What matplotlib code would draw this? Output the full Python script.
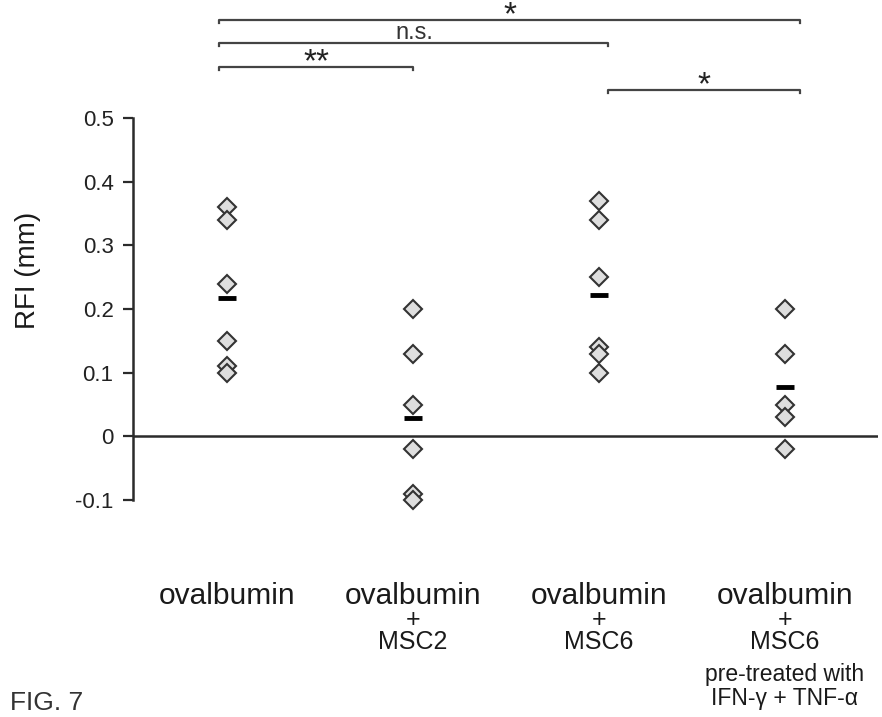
import numpy as np
import matplotlib.pyplot as plt
from matplotlib.transforms import blended_transform_factory

plt.rcParams['font.family'] = ['Liberation Sans', 'DejaVu Sans']

# Данные по группам (RFI, мм)
groups = ['ovalbumin', 'ovalbumin + MSC2', 'ovalbumin + MSC6',
          'ovalbumin + MSC6 pre-treated']
ova = [0.36, 0.34, 0.24, 0.15, 0.11, 0.10]
ova_msc2 = [0.20, 0.13, 0.05, -0.02, -0.09, -0.10]
ova_msc6 = [0.37, 0.34, 0.25, 0.14, 0.13, 0.10]
ova_msc6_pre = [0.20, 0.13, 0.05, 0.03, -0.02]
series = [ova, ova_msc2, ova_msc6, ova_msc6_pre]

yticks = [-0.1, 0, 0.1, 0.2, 0.3, 0.4, 0.5]
ytick_labels = ['-0.1', '0', '0.1', '0.2', '0.3', '0.4', '0.5']

# Скобки значимости: (от, до, подпись, высота)
brackets = [(0.96, 4.08, '*', 0.654),
            (0.96, 3.05, 'n.s.', 0.618),
            (0.96, 2.00, '**', 0.580),
            (3.05, 4.08, '*', 0.544)]

W, H = 882, 717
fig = plt.figure(figsize=(W / 100, H / 100), dpi=100)
ax = fig.add_axes([133 / W, 1 - 500 / H, (878 - 133) / W, (500 - 118) / H])

dark = '#2b2b2b'
for i, vals in enumerate(series, start=1):
    x = np.full(len(vals), i)
    ax.plot(x, vals, linestyle='none', marker='D', ms=9.5,
            mfc='#dedede', mec='#333333', mew=1.5, zorder=3, clip_on=False)
    ax.plot([i], [np.mean(vals)], linestyle='none', marker='_', ms=13,
            mew=3.5, color='black', zorder=4, clip_on=False)

ax.axhline(0, color=dark, lw=1.8, zorder=2)
ax.set_xlim(0.495, 4.5)
ax.set_ylim(-0.1, 0.5)
for s in ['top', 'right', 'bottom']:
    ax.spines[s].set_visible(False)
ax.spines['left'].set_linewidth(1.8)
ax.spines['left'].set_color(dark)
ax.set_xticks([])
ax.set_yticks(yticks)
ax.set_yticklabels(ytick_labels, fontsize=16, color='#222222')
ax.tick_params(axis='y', direction='out', length=7, width=1.6, color=dark, pad=7)

fig.text(28 / W, 1 - 270 / H, 'RFI (mm)', rotation=90, fontsize=20,
         ha='center', va='center', color='#1a1a1a')

# Скобки значимости
px = 0.6 / 382  # один пиксель в единицах данных
for x0, x1, lab, yb in brackets:
    ax.plot([x0, x0, x1, x1], [yb - 3 * px, yb, yb, yb - 3 * px],
            color='#444444', lw=1.6, clip_on=False)
    if '*' in lab:
        ax.text((x0 + x1) / 2, yb - 4 * px, lab, ha='center', va='baseline',
                fontsize=24, color='#222222')
    else:
        ax.text((x0 + x1) / 2, yb + 4 * px, lab, ha='center', va='baseline',
                fontsize=17, color='#333333')

# Подписи групп
tr = blended_transform_factory(ax.transData, fig.transFigure)
def put(x, ypix, s, fs):
    ax.text(x, 1 - ypix / H, s, transform=tr, ha='center', va='center',
            fontsize=fs, color='#1a1a1a')

for i in range(1, 5):
    put(i, 596, 'ovalbumin', 21.5)
for i in range(2, 5):
    put(i, 620, '+', 18)
put(2, 642, 'MSC2', 18)
put(3, 642, 'MSC6', 18)
put(4, 642, 'MSC6', 18)
put(4, 675, 'pre-treated with', 16.5)
put(4, 699, 'IFN-γ + TNF-α', 16.5)

fig.text(10 / W, 1 - 703 / H, 'FIG. 7', fontsize=19, ha='left', va='center',
         color='#333333')

fig.savefig('out.png', dpi=100)
